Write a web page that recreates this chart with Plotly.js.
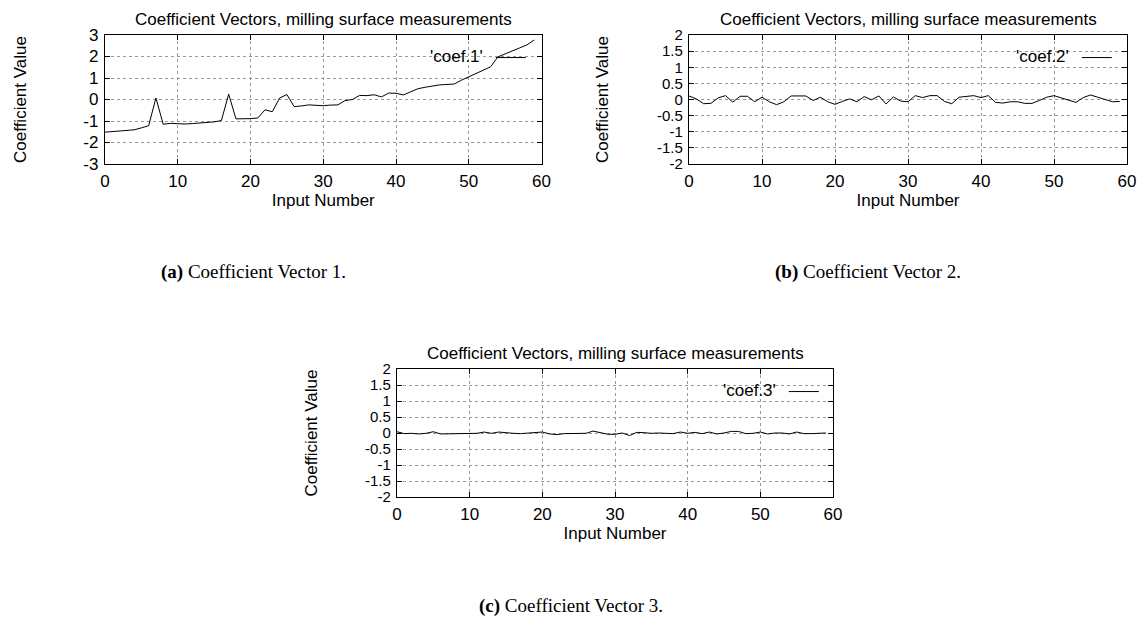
<!DOCTYPE html>
<html>
<head>
<meta charset="utf-8">
<script src="https://cdn.plot.ly/plotly-3.0.1.min.js"></script>
<style>html,body{margin:0;padding:0;background:#fff;}#chart{width:1138px;height:622px;}</style>
</head>
<body>
<div id="chart"></div>
<script>
// ---- data ----
const inputNumber = Array.from({length: 60}, (_, i) => i);
const coef1 = [-1.52,-1.49,-1.46,-1.44,-1.41,-1.32,-1.22,0.07,-1.15,-1.11,
  -1.13,-1.14,-1.12,-1.09,-1.08,-1.04,-0.98,0.25,-0.90,-0.90,
  -0.89,-0.86,-0.48,-0.57,0.07,0.23,-0.33,-0.30,-0.25,-0.27,
  -0.29,-0.26,-0.25,-0.05,0.00,0.19,0.18,0.22,0.12,0.30,
  0.29,0.21,0.36,0.50,0.57,0.63,0.68,0.70,0.72,0.90,
  1.05,1.19,1.34,1.52,1.98,2.11,2.25,2.40,2.54,2.77];
const coef2 = [0.11,0.02,-0.13,-0.12,0.05,0.12,-0.08,0.10,0.10,-0.07,
  0.07,-0.07,-0.16,-0.07,0.11,0.11,0.11,-0.03,0.07,-0.07,
  -0.15,-0.06,0.02,-0.07,0.09,-0.01,0.11,-0.14,0.08,-0.05,
  -0.07,0.12,0.06,0.12,0.12,-0.06,-0.13,0.07,0.09,0.12,
  0.06,0.12,-0.09,-0.11,-0.07,-0.07,-0.12,-0.12,-0.03,0.07,
  0.12,0.05,-0.02,-0.09,0.06,0.14,0.07,-0.01,-0.07,-0.06];
const coef3 = [0.04,-0.02,-0.01,-0.03,-0.01,0.04,-0.03,-0.03,-0.03,-0.02,
  -0.02,-0.01,0.03,-0.01,0.03,0.00,-0.01,-0.02,-0.01,0.00,
  0.03,-0.03,-0.05,-0.02,-0.02,-0.02,-0.01,0.06,0.02,-0.04,
  -0.04,0.00,-0.08,0.02,0.01,-0.01,0.00,-0.02,-0.02,0.03,
  -0.01,0.02,-0.02,0.03,-0.03,0.00,0.05,0.05,-0.02,-0.01,
  0.03,-0.03,0.00,0.00,-0.03,0.03,-0.02,-0.02,0.00,0.00];
const seriesNames = ["'coef.1'", "'coef.2'", "'coef.3'"];
const plotTitle = "Coefficient Vectors, milling surface measurements";
const xTitle = "Input Number";
const yTitle = "Coefficient Value";
const captions = ["<b>(a)</b> Coefficient Vector 1.", "<b>(b)</b> Coefficient Vector 2.", "<b>(c)</b> Coefficient Vector 3."];
const yTicks1 = [-3,-2,-1,0,1,2,3];
const yTickText1 = ["-3","-2","-1","0","1","2","3"];
const yTicks2 = [-2,-1.5,-1,-0.5,0,0.5,1,1.5,2];
const yTickText2 = ["-2","-1.5","-1","-0.5","0","0.5","1","1.5","2"];
const xTicks = [0,10,20,30,40,50,60];

// ---- layout helpers ----
const W = 1138, H = 622;
const px = v => v / W, py = v => 1 - v / H;
const sans = 'Liberation Sans, Arial, sans-serif';
const tickFont = {family: sans, size: 17, color: '#000'};
const smallTickFont = {family: sans, size: 15, color: '#000'};
const capFont = {family: 'Liberation Serif, serif', size: 19, color: '#000'};

function xAxis(l, r, anchor) {
  return {domain: [px(l), px(r)], anchor: anchor, range: [0, 60], tickvals: xTicks,
    ticks: 'inside', ticklen: 5, tickcolor: '#000', mirror: 'allticks', showline: true,
    linecolor: '#000', linewidth: 1.2, showgrid: true, gridcolor: '#999', griddash: 'dot',
    gridwidth: 1, zeroline: false, tickfont: tickFont, ticklabelstandoff: 1,
    title: {text: xTitle, font: tickFont, standoff: 0}, fixedrange: true};
}
function yAxis(t, b, anchor, tv, tt, so, tf) {
  return {domain: [py(b), py(t)], anchor: anchor, range: [tv[0], tv[tv.length - 1]],
    tickvals: tv, ticktext: tt, ticks: 'inside', ticklen: 5, tickcolor: '#000',
    mirror: 'allticks', showline: true, linecolor: '#000', linewidth: 1.2, showgrid: true,
    gridcolor: '#999', griddash: 'dot', gridwidth: 1, zeroline: false, tickfont: tf,
    ticklabelstandoff: 2, title: {text: yTitle, font: tickFont, standoff: so}, fixedrange: true};
}

const lineStyle = {color: '#000', width: 1};
const traces = [
  {x: inputNumber, y: coef1, type: 'scatter', mode: 'lines', line: lineStyle, name: '', xaxis: 'x', yaxis: 'y', legend: 'legend', showlegend: true},
  {x: inputNumber, y: coef2, type: 'scatter', mode: 'lines', line: lineStyle, name: '', xaxis: 'x2', yaxis: 'y2', legend: 'legend2', showlegend: true},
  {x: inputNumber, y: coef3, type: 'scatter', mode: 'lines', line: lineStyle, name: '', xaxis: 'x3', yaxis: 'y3', legend: 'legend3', showlegend: true}
];

function legendAt(xl, yt, title) {
  return {x: px(xl), y: py(yt), xanchor: 'left', yanchor: 'top', bgcolor: 'rgba(0,0,0,0)',
    borderwidth: 0, font: tickFont, itemwidth: 30,
    title: {text: title, side: 'left', font: tickFont}};
}

function ann(text, x, y, font) {
  return {text: text, x: px(x), y: py(y), xref: 'paper', yref: 'paper', xanchor: 'center',
    yanchor: 'middle', showarrow: false, font: font};
}

const layout = {
  width: W, height: H, margin: {l: 0, r: 0, t: 0, b: 0},
  paper_bgcolor: '#fff', plot_bgcolor: '#fff', showlegend: true,
  xaxis: xAxis(105, 541.5, 'y'), yaxis: yAxis(35, 164, 'x', yTicks1, yTickText1, 52, tickFont),
  xaxis2: xAxis(689, 1127, 'y2'), yaxis2: yAxis(35, 164, 'x2', yTicks2, yTickText2, 44, smallTickFont),
  xaxis3: xAxis(397, 833, 'y3'), yaxis3: yAxis(369, 497, 'x3', yTicks2, yTickText2, 43, smallTickFont),
  legend: legendAt(428, 40, seriesNames[0]),
  legend2: legendAt(1014, 40, seriesNames[1]),
  legend3: legendAt(721, 374, seriesNames[2]),
  annotations: [
    ann(plotTitle, 323, 19, tickFont),
    ann(plotTitle, 908, 19, tickFont),
    ann(plotTitle, 615, 353, tickFont),
    ann(captions[0], 253, 272, capFont),
    ann(captions[1], 868, 272, capFont),
    ann(captions[2], 571, 606, capFont)
  ]
};

Plotly.newPlot('chart', traces, layout, {displayModeBar: false, staticPlot: true});
</script>
</body>
</html>
